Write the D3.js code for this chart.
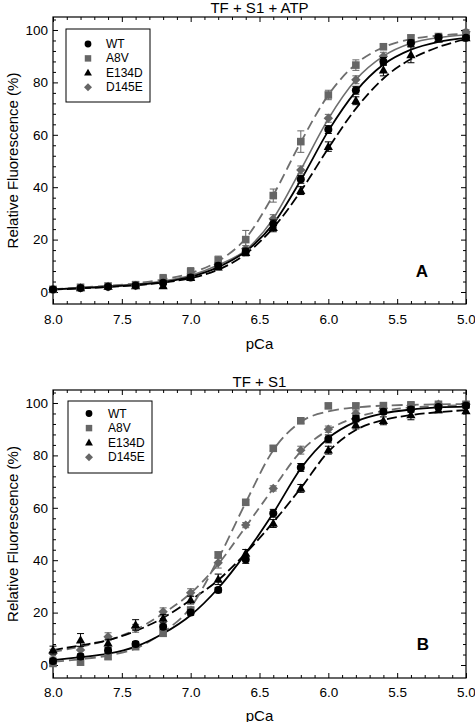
<!DOCTYPE html>
<html>
<head>
<meta charset="utf-8">
<script src="https://cdn.jsdelivr.net/npm/d3@7"></script>
<style>
  html, body { margin: 0; padding: 0; background: #fff; }
  svg { display: block; font-family: "Liberation Sans", Arial, Helvetica, sans-serif; }
</style>
</head>
<body>
<svg id="chart" width="475" height="722"></svg>
<script>
// ---------------- data ----------------
const pCa = [8.0, 7.8, 7.6, 7.4, 7.2, 7.0, 6.8, 6.6, 6.4, 6.2, 6.0, 5.8, 5.6, 5.4, 5.2, 5.0];
const seriesNames = ["WT", "A8V", "E134D", "D145E"];
const xTickLabels = ["8.0", "7.5", "7.0", "6.5", "6.0", "5.5", "5.0"];
const yTickLabels = ["0", "20", "40", "60", "80", "100"];
const panelTitles = ["TF + S1 + ATP", "TF + S1"];
const panelLetters = ["A", "B"];

// Panel A (TF + S1 + ATP) - means
const aWT    = [1.0, 1.5, 2.0, 2.5, 3.5, 5.5, 10.0, 15.5, 26.0, 43.0, 62.0, 77.0, 88.0, 95.0, 97.2, 97.0];
const aA8V   = [1.0, 1.8, 2.3, 2.8, 5.2, 7.8, 12.2, 20.0, 36.8, 57.4, 75.2, 86.6, 93.6, 97.0, 97.5, 98.0];
const aE134D = [1.0, 1.5, 2.0, 2.3, 2.3, 5.5, 9.5, 15.0, 24.5, 38.7, 55.5, 73.0, 84.7, 90.5, 96.5, 97.0];
const aD145E = [1.0, 1.5, 2.0, 2.5, 3.8, 6.0, 10.5, 16.5, 28.0, 46.6, 66.3, 81.0, 90.0, 95.0, 97.0, 99.3];
// Panel A - error bars
const aWTErr    = [0.5, 0.5, 0.5, 0.6, 0.8, 1.0, 1.0, 1.2, 1.5, 1.5, 1.5, 1.5, 1.5, 1.2, 0.8, 0.8];
const aA8VErr   = [0.5, 0.6, 0.6, 0.8, 1.5, 1.5, 1.5, 3.5, 2.5, 4.1, 1.8, 2.0, 1.0, 1.0, 0.8, 0.8];
const aE134DErr = [0.5, 0.5, 0.6, 0.6, 0.8, 1.0, 1.0, 1.2, 1.5, 1.5, 1.8, 1.5, 2.2, 3.0, 1.0, 1.0];
const aD145EErr = [0.5, 0.5, 0.6, 0.6, 0.8, 1.0, 1.0, 1.2, 1.5, 1.5, 1.5, 1.5, 1.5, 1.2, 0.8, 0.8];
// Panel A - fitted curves
const aFitWT    = [1.0, 1.5, 2.0, 2.7, 3.8, 5.8, 9.5, 15.5, 26.0, 42.7, 61.5, 76.6, 86.8, 92.5, 95.5, 97.0];
const aFitA8V   = [1.1, 1.7, 2.4, 3.3, 4.8, 7.2, 11.8, 20.5, 37.0, 57.2, 75.2, 87.0, 93.4, 96.5, 97.9, 98.5];
const aFitE134D = [0.9, 1.4, 1.9, 2.6, 3.6, 5.3, 8.5, 14.5, 24.5, 38.5, 54.9, 70.0, 81.5, 88.9, 93.5, 96.5];
const aFitD145E = [1.0, 1.6, 2.2, 3.0, 4.2, 6.3, 10.3, 16.0, 28.0, 46.7, 66.1, 81.0, 90.0, 94.9, 97.1, 98.2];

// Panel B (TF + S1) - means
const bWT    = [1.5, 3.2, 5.5, 8.0, 14.6, 20.0, 28.6, 40.3, 57.9, 75.4, 86.3, 94.0, 96.7, 97.5, 98.5, 99.0];
const bA8V   = [0.6, 1.1, 3.2, 7.0, 12.1, 21.0, 42.0, 62.1, 82.7, 93.2, 98.9, 98.9, 99.0, 99.3, 99.5, 99.5];
const bE134D = [5.7, 9.5, 8.3, 15.3, 17.8, 24.8, 32.7, 42.6, 54.0, 67.4, 82.0, 91.6, 93.2, 95.4, 97.3, 97.0];
const bD145E = [4.5, 5.7, 10.8, 14.0, 20.3, 27.6, 39.0, 53.4, 67.4, 82.0, 90.0, 96.0, 98.0, 99.0, 99.5, 99.5];
// Panel B - error bars
const bWTErr    = [1.0, 1.0, 1.0, 1.0, 1.0, 1.0, 1.0, 1.5, 1.5, 1.5, 1.5, 1.2, 1.0, 1.0, 0.8, 0.8];
const bA8VErr   = [1.0, 1.2, 1.0, 1.0, 1.0, 1.0, 1.2, 1.0, 1.0, 1.0, 0.8, 0.8, 0.8, 0.8, 0.8, 0.8];
const bE134DErr = [1.5, 2.5, 1.5, 2.0, 1.5, 1.5, 2.0, 1.5, 1.5, 1.5, 1.5, 1.5, 1.5, 1.8, 1.0, 1.0];
const bD145EErr = [1.5, 1.5, 1.5, 1.5, 1.5, 1.5, 2.0, 1.0, 1.0, 1.5, 1.2, 1.0, 1.0, 1.0, 0.8, 0.8];
// Panel B - fitted curves
const bFitWT    = [1.9, 3.0, 4.3, 7.0, 12.0, 19.0, 29.3, 42.6, 58.0, 75.0, 86.6, 92.9, 96.0, 97.5, 98.3, 98.6];
const bFitA8V   = [1.2, 2.2, 3.6, 6.3, 12.5, 22.0, 40.5, 62.0, 82.0, 92.8, 96.8, 98.3, 99.0, 99.3, 99.5, 99.6];
const bFitE134D = [5.7, 7.5, 9.5, 13.0, 18.0, 24.8, 32.4, 42.7, 54.5, 67.5, 81.4, 89.7, 93.5, 95.4, 96.5, 97.3];
const bFitD145E = [5.0, 7.0, 9.5, 13.4, 19.7, 27.4, 38.5, 52.8, 67.4, 81.5, 89.7, 94.5, 97.0, 98.3, 98.9, 99.2];

// ---------------- styles ----------------
const BLACK = "#000000";
const GRAY = "#666666";
const GRAYLINE = "#6e6e6e";
const markerStyle = {
  WT:    { shape: "circle",   fill: BLACK },
  A8V:   { shape: "square",   fill: GRAY },
  E134D: { shape: "triangle", fill: BLACK },
  D145E: { shape: "diamond",  fill: GRAY }
};

const panels = [
  {
    title: panelTitles[0], letter: panelLetters[0],
    top: 17, bottom: 304, yDomain: [-4.58, 104.96],
    means:  { WT: aWT, A8V: aA8V, E134D: aE134D, D145E: aD145E },
    errs:   { WT: aWTErr, A8V: aA8VErr, E134D: aE134DErr, D145E: aD145EErr },
    fits:   { WT: aFitWT, A8V: aFitA8V, E134D: aFitE134D, D145E: aFitD145E },
    lineStyle: {
      WT:    { color: BLACK, dash: null, width: 1.8 },
      A8V:   { color: GRAYLINE, dash: "10,5", width: 1.8 },
      E134D: { color: BLACK, dash: "10,4", width: 1.8 },
      D145E: { color: GRAYLINE, dash: null, width: 1.6 }
    },
    legend: { x0: 66, y0: 29, x1: 150, y1: 102, symX: 88, textX: 106, rowY: 44, rowStep: 14.4 },
    titleY: 7, tickLabelGap: 10, xLabelY: 343, letterPos: [422, 271]
  },
  {
    title: panelTitles[1], letter: panelLetters[1],
    top: 390, bottom: 678, yDomain: [-4.96, 104.96],
    means:  { WT: bWT, A8V: bA8V, E134D: bE134D, D145E: bD145E },
    errs:   { WT: bWTErr, A8V: bA8VErr, E134D: bE134DErr, D145E: bD145EErr },
    fits:   { WT: bFitWT, A8V: bFitA8V, E134D: bFitE134D, D145E: bFitD145E },
    lineStyle: {
      WT:    { color: BLACK, dash: null, width: 1.8 },
      A8V:   { color: GRAYLINE, dash: "11,5", width: 1.8 },
      E134D: { color: BLACK, dash: "10,4", width: 1.8 },
      D145E: { color: GRAYLINE, dash: "9,5", width: 1.8 }
    },
    legend: { x0: 68, y0: 401, x1: 152, y1: 473, symX: 89, textX: 108, rowY: 413.5, rowStep: 14.6 },
    titleY: 381, tickLabelGap: 9, xLabelY: 715, letterPos: [423, 644]
  }
];

const LEFT = 53, RIGHT = 466;
const svg = d3.select("#chart");
const x = d3.scaleLinear().domain([8.0, 5.0]).range([LEFT, RIGHT]);

function markerPath(shape, s) {
  const k = s || 1;
  if (shape === "circle") {
    const r = 4 * k;
    return `M${-r},0A${r},${r} 0 1,0 ${r},0A${r},${r} 0 1,0 ${-r},0Z`;
  }
  if (shape === "square") {
    const h = 3.8 * k;
    return `M${-h},${-h}L${h},${-h}L${h},${h}L${-h},${h}Z`;
  }
  if (shape === "triangle") {
    return `M0,${-4.9 * k}L${4.6 * k},${3.3 * k}L${-4.6 * k},${3.3 * k}Z`;
  }
  const d = 4.7 * k;
  return `M0,${-d}L${d},0L0,${d}L${-d},0Z`;
}

const xMajor = xTickLabels.map(Number);
const xMinor = d3.range(80, 49, -1).map(v => v / 10).filter(v => !xMajor.some(m => Math.abs(m - v) < 1e-6));
const yMajor = yTickLabels.map(Number);
const yMinor = d3.range(0, 105, 4).filter(v => v % 20 !== 0);

panels.forEach(p => {
  const y = d3.scaleLinear().domain(p.yDomain).range([p.bottom, p.top]);
  const g = svg.append("g");

  // title
  g.append("text").attr("x", (LEFT + RIGHT) / 2).attr("y", p.titleY)
    .attr("text-anchor", "middle").attr("dominant-baseline", "central")
    .attr("font-size", 15).text(p.title);

  // axes (inward ticks)
  const styleAxis = sel => {
    sel.select(".domain").remove();
    sel.selectAll(".tick line").attr("stroke", "#000").attr("stroke-width", 1);
    sel.selectAll("text").attr("font-size", 13.5).attr("fill", "#000")
      .attr("font-family", "Liberation Sans, Arial, sans-serif");
  };
  g.append("g").attr("transform", `translate(0,${p.bottom})`)
    .call(d3.axisBottom(x).tickValues(xMajor).tickSize(-5).tickPadding(p.tickLabelGap)
      .tickFormat((d, i) => xTickLabels[i]))
    .call(styleAxis);
  g.append("g").attr("transform", `translate(0,${p.bottom})`)
    .call(d3.axisBottom(x).tickValues(xMinor).tickSize(-3).tickFormat(""))
    .call(styleAxis);
  g.append("g").attr("transform", `translate(0,${p.top})`)
    .call(d3.axisTop(x).tickValues(xMajor).tickSize(-5).tickFormat(""))
    .call(styleAxis);
  g.append("g").attr("transform", `translate(0,${p.top})`)
    .call(d3.axisTop(x).tickValues(xMinor).tickSize(-3).tickFormat(""))
    .call(styleAxis);
  g.append("g").attr("transform", `translate(${LEFT},0)`)
    .call(d3.axisLeft(y).tickValues(yMajor).tickSize(-5).tickPadding(5)
      .tickFormat((d, i) => yTickLabels[i]))
    .call(styleAxis);
  g.append("g").attr("transform", `translate(${LEFT},0)`)
    .call(d3.axisLeft(y).tickValues(yMinor).tickSize(-3).tickFormat(""))
    .call(styleAxis);
  g.append("g").attr("transform", `translate(${RIGHT},0)`)
    .call(d3.axisRight(y).tickValues(yMajor).tickSize(-5).tickFormat(""))
    .call(styleAxis);
  g.append("g").attr("transform", `translate(${RIGHT},0)`)
    .call(d3.axisRight(y).tickValues(yMinor).tickSize(-3).tickFormat(""))
    .call(styleAxis);

  // frame
  g.append("rect").attr("x", LEFT).attr("y", p.top)
    .attr("width", RIGHT - LEFT).attr("height", p.bottom - p.top)
    .attr("fill", "none").attr("stroke", "#000").attr("stroke-width", 1.2);

  // axis labels
  g.append("text").attr("x", (LEFT + RIGHT) / 2).attr("y", p.xLabelY)
    .attr("text-anchor", "middle").attr("dominant-baseline", "central")
    .attr("font-size", 15).text("pCa");
  g.append("text")
    .attr("transform", `translate(12,${(p.top + p.bottom) / 2}) rotate(-90)`)
    .attr("text-anchor", "middle").attr("dominant-baseline", "central")
    .attr("font-size", 15).text("Relative Fluorescence (%)");

  // fitted curves
  const line = d3.line().x((d, i) => x(pCa[i])).y(d => y(d)).curve(d3.curveMonotoneX);
  ["D145E", "E134D", "A8V", "WT"].forEach(name => {
    const ls = p.lineStyle[name];
    g.append("path").datum(p.fits[name]).attr("d", line)
      .attr("fill", "none").attr("stroke", ls.color).attr("stroke-width", ls.width)
      .attr("stroke-dasharray", ls.dash);
  });

  // error bars + markers
  ["D145E", "E134D", "A8V", "WT"].forEach(name => {
    const ms = markerStyle[name];
    const means = p.means[name], errs = p.errs[name];
    const eg = g.append("g").attr("stroke", ms.fill).attr("stroke-width", 1);
    pCa.forEach((pc, i) => {
      const cx = x(pc), y1 = y(means[i] - errs[i]), y2 = y(means[i] + errs[i]);
      eg.append("line").attr("x1", cx).attr("x2", cx).attr("y1", y1).attr("y2", y2);
      eg.append("line").attr("x1", cx - 3.5).attr("x2", cx + 3.5).attr("y1", y1).attr("y2", y1);
      eg.append("line").attr("x1", cx - 3.5).attr("x2", cx + 3.5).attr("y1", y2).attr("y2", y2);
    });
    g.append("g").selectAll("path").data(means).join("path")
      .attr("d", markerPath(ms.shape, 1))
      .attr("transform", (d, i) => `translate(${x(pCa[i])},${y(d)})`)
      .attr("fill", ms.fill);
  });

  // legend
  const L = p.legend;
  const lg = g.append("g");
  lg.append("rect").attr("x", L.x0).attr("y", L.y0)
    .attr("width", L.x1 - L.x0).attr("height", L.y1 - L.y0)
    .attr("fill", "#fff").attr("stroke", "#000").attr("stroke-width", 1);
  seriesNames.forEach((name, i) => {
    const yy = L.rowY + i * L.rowStep;
    lg.append("path").attr("d", markerPath(markerStyle[name].shape, 0.85))
      .attr("transform", `translate(${L.symX},${yy})`).attr("fill", markerStyle[name].fill);
    lg.append("text").attr("x", L.textX).attr("y", yy)
      .attr("dominant-baseline", "central").attr("font-size", 12).text(name);
  });

  // panel letter
  g.append("text").attr("x", p.letterPos[0]).attr("y", p.letterPos[1])
    .attr("text-anchor", "middle").attr("dominant-baseline", "central")
    .attr("font-size", 17).attr("font-weight", "bold").text(p.letter);
});
</script>
</body>
</html>
